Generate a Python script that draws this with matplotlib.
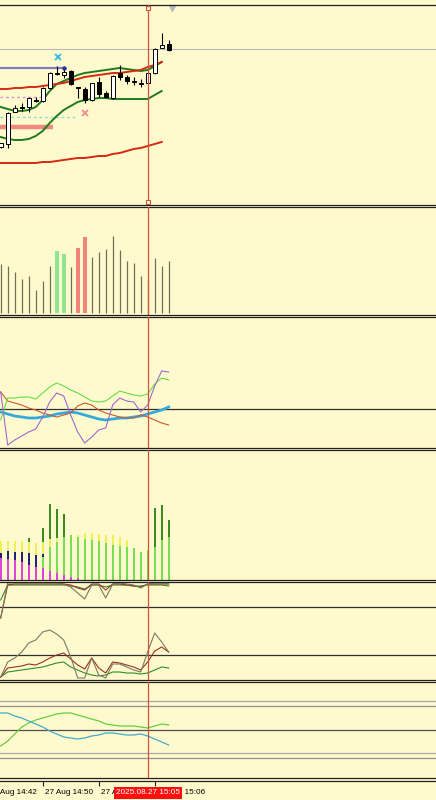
import matplotlib.pyplot as plt
import numpy as np

# 1-minute bars, 27 Aug 14:44 .. 15:08
first_minute = 14 * 60 + 44
cursor_bar = 21
cursor_label = "2025.08.27 15:05"
tick_bars = [-2, 6, 14, 22]

opens = [58, 61, 93, 98, 98, 105, 104, 117, 132, 130, 134, 118, 116, 105, 123, 112, 107, 132, 128, 124, 122, 122, 132, 157, 161]
closes = [62, 92, 97, 97, 107, 104.5, 117, 132, 131.5, 133, 121, 117.5, 105, 122, 111, 108, 129, 128, 124, 123.5, 121.5, 132, 156, 160, 155]
highs = [62, 93, 100, 102, 108, 108, 118, 133, 139, 137, 135, 118.5, 118, 122, 128, 114, 130, 140, 130, 128, 126, 133, 157, 172, 165]
lows = [57, 57, 93, 94, 93, 103, 103, 116, 130, 127, 120, 107, 102, 104, 108, 107, 106, 125, 121, 120, 118, 121, 131, 157, 154]

band_upper = [98, 96, 94, 94, 95, 98, 105, 114, 121, 124, 127, 130, 132, 133, 134, 135, 136, 137, 136, 135, 134, 135, 139, 143]
band_lower = [68, 66, 65, 65, 66, 69, 74, 82, 89, 95, 99, 103, 105, 106, 107, 107, 106, 106, 106, 106, 106, 106, 110, 114]
ma_fast = [116, 116, 117, 117, 118, 118, 119, 120, 121, 122, 124, 126, 128, 129, 130, 131, 132, 132, 133, 134, 135, 138, 140, 143]
ma_slow = [42, 42, 42, 42, 42, 42, 43, 43, 44, 45, 46, 47, 47, 48, 49, 49, 51, 52, 54, 56, 57, 59, 61, 63]
last_price = 156
high_level, high_level_end = 137, 9
pink_level, pink_level_end = 108, 6
cyan_level, cyan_level_end = 88, 10.7
zone_level, zone_level_end = 78, 7.4
cross_marks = [(8.2, 148, '#3cbcf0'), (12.0, 92, '#f09090')]

volume = [49, 47, 41, 34, 37, 23, 32, 47, 62, 59, 46, 65, 76, 56, 61, 64, 77, 63, 52, 50, 37, 33, 55, 47, 52]
vol_up = [8, 9]
vol_down = [11, 12]

osc_green = [-11, 11, 11, 12, 12, 10, 16, 22, 26, 23, 19, 16, 12, 8, 7, 8, 13, 18, 16, 14, 13, 15, 25, 31, 29]
osc_purple = [17, -36, -31, -27, -23, -20, -8, 7, 16, 13, -6, -23, -34, -28, -21, -19, 4, 11, 8, 7, -3, 4, 23, 38, 37]
osc_brown = [17, 8, 6, 4, 1, -1, -4, -6, -8, -6, -4, 3, 6, 4, -1, -4, -6, -8, -9, -9, -6, -8, -11, -14, -16]
osc_signal = [-3, -5, -7, -8, -9, -9, -8, -7, -5, -4, -3, -4, -6, -8, -10, -11, -10, -9, -9, -8, -7, -5, -3, -1, 2]

hist_magenta = [22, 21, 20, 18, 15, 13, 12, 9, 7, 5, 3, 2, 0, 0, 0, 0, 0, 0, 0, 0, 0, 0, 0, 0, 0]
hist_green = [0, 0, 0, 0, 0, 0, 11, 24, 31, 38, 42, 41, 41, 40, 39, 37, 35, 34, 33, 32, 28, 30, 33, 40, 43]
hist_navy = [5, 8, 8, 10, 12, 12, 3, 0, 0, 0, 0, 0, 0, 0, 0, 0, 0, 0, 0, 0, 0, 0, 0, 0, 0]
hist_yellow = [12, 10, 11, 11, 11, 12, 12, 8, 4, 0, 0, 2, 6, 7, 7, 8, 10, 9, 7, 0, 0, 0, 0, 0, 0]
hist_dark = [0, 0, 0, 0, 4, 0, 14, 35, 29, 23, 0, 0, 0, 0, 0, 0, 0, 0, 0, 0, 0, 0, 39, 35, 17]

stoch_hi_grey = [62, 97, 97, 97, 97, 97, 97, 97, 97, 96, 93, 87, 81, 95, 95, 82, 96, 97, 96, 95, 92, 96, 97, 97, 96]
stoch_hi_brown = [62, 95, 96, 96, 96, 96, 96, 96, 96, 96, 95, 92, 90, 96, 96, 90, 96, 96, 95, 94, 93, 96, 96, 96, 96]
stoch_hi_green = [80, 95, 95, 95, 95, 95, 95, 95, 95, 95, 94, 93, 91, 95, 95, 93, 95, 95, 95, 94, 94, 95, 95, 95, 94]
stoch_lo_grey = [3, 18, 22, 28, 37, 40, 48, 50, 46, 40, 23, 2, 2, 22, 5, 2, 16, 16, 13, 10, 8, 28, 47, 38, 28]
stoch_lo_brown = [3, 12, 13, 14, 16, 15, 18, 22, 25, 27, 21, 15, 11, 22, 12, 7, 18, 17, 15, 13, 10, 18, 29, 33, 28]
stoch_lo_green = [3, 8, 9, 10, 11, 12, 13, 15, 17, 18, 13, 10, 7, 5, 4, 5, 8, 8, 7, 7, 6, 7, 10, 13, 12]
stoch_levels = [73, 25]

rsi_green = [32, 37, 44, 51, 55, 58, 60, 62, 64, 65, 65, 63, 61, 59, 57, 54, 53, 52, 52, 52, 51, 50, 52, 54, 53]
rsi_cyan = [65, 65, 62, 60, 57, 54, 51, 47, 44, 41, 40, 39, 40, 42, 43, 45, 45, 44, 43, 43, 44, 42, 39, 36, 33]
rsi_levels = [(77, '#a8a8a8'), (72, '#909090'), (48, '#505050'), (25, '#a8a8a8'), (20, '#909090')]

BG = '#fffacd'
CURSOR = '#c8553d'
W, H = 436, 800
x0 = -0.1
xlim = (x0, x0 + W / 7)


def panel(top, bottom, ylim):
    ax = fig.add_axes([0, 1 - bottom / H, 1, (bottom - top) / H])
    ax.set_facecolor(BG)
    ax.set_xlim(*xlim)
    ax.set_ylim(*ylim)
    ax.set_xticks([])
    ax.set_yticks([])
    for s in ['left', 'right']:
        ax.spines[s].set_visible(False)
    for s in ['top', 'bottom']:
        ax.spines[s].set_color('#202020')
        ax.spines[s].set_linewidth(0.9)
    ax.axvline(cursor_bar, color=CURSOR, lw=0.9, zorder=10)
    return ax


def main():
    global fig
    plt.rcParams['font.family'] = ['Liberation Sans', 'DejaVu Sans']
    fig = plt.figure(figsize=(W / 100, H / 100), dpi=100, facecolor=BG)
    n = len(opens)
    x = np.arange(n)

    # window frame strip
    strip = fig.add_axes([0, 1 - 4 / H, 1, 4 / H])
    strip.set_facecolor('#dcdcdc')
    strip.axis('off')
    strip.patch.set_visible(True)

    # price panel
    ax = panel(5, 205, (0, 200))
    ax.axhline(last_price, color='#b8b8b8', lw=0.8)
    ax.hlines(high_level, x0, high_level_end, color='#7b7bc8', lw=1.6)
    ax.hlines(pink_level, x0, pink_level_end, color='#d890d8', lw=1, linestyles=(0, (2, 2)))
    ax.hlines(cyan_level, x0, cyan_level_end, color='#88ddcc', lw=1, linestyles=(0, (2, 2)))
    ax.hlines(zone_level, x0, zone_level_end, color='#f08a80', lw=3.2)
    xb = np.arange(len(band_upper))
    ax.plot(xb, band_upper, color='#1f7a1f', lw=1.4)
    ax.plot(xb, band_lower, color='#1f7a1f', lw=1.4)
    ax.plot(xb, ma_fast, color='#d42a10', lw=1.4)
    ax.plot(xb, ma_slow, color='#d42a10', lw=1.4)
    o = np.array(opens)
    c = np.array(closes)
    ax.vlines(x, lows, highs, color='black', lw=0.8, zorder=4)
    body_lo = np.minimum(o, c)
    body_h = np.maximum(np.abs(c - o), 0.4)
    colors = ['white' if cc >= oo else 'black' for oo, cc in zip(o, c)]
    ax.bar(x, body_h, bottom=body_lo, width=0.55, color=colors,
           edgecolor='black', lw=0.7, zorder=5)
    ax.plot([high_level_end], [high_level], 'o', color='#303090', ms=2.2, zorder=6)
    for mx, my, mc in cross_marks:
        ax.plot(mx, my, 'x', color=mc, ms=4.5, mew=1.4)
    ax.plot(cursor_bar, 197, 's', ms=3, mfc=BG, mec=CURSOR, mew=0.8, zorder=11)
    ax.plot(cursor_bar, 3, 's', ms=3, mfc=BG, mec=CURSOR, mew=0.8, zorder=11)
    ax.plot(24.5, 197, 'v', ms=5, color='#b8b8b8', clip_on=False)

    # volume
    ax = panel(207, 315, (-2, 106))
    thin = [i for i in x if i not in vol_up + vol_down]
    ax.vlines(thin, 0, [volume[i] for i in thin], color='#707058', lw=0.9)
    ax.bar(vol_up, [volume[i] for i in vol_up], width=0.55, color='#8fe68f')
    ax.bar(vol_down, [volume[i] for i in vol_down], width=0.55, color='#f0847a')

    # oscillator
    ax = panel(317, 448, (-39, 92))
    ax.axhline(0, color='#303030', lw=0.9)
    ax.plot(x, osc_signal, color='#33aadd', lw=2)
    ax.plot(x, osc_brown, color='#cc5a2a', lw=0.8)
    ax.plot(x, osc_green, color='#66dd44', lw=0.8)
    ax.plot(x, osc_purple, color='#9a6acc', lw=0.8)

    # stacked histogram
    ax = panel(450, 580, (0, 130))
    bottom = np.zeros(n)
    for vals, col in [(hist_magenta, '#dd44dd'), (hist_green, '#77dd55'),
                      (hist_navy, '#22227a'), (hist_yellow, '#eeee55'),
                      (hist_dark, '#3a8a22')]:
        ax.bar(x, vals, bottom=bottom, width=0.26, color=col)
        bottom += np.array(vals)

    # stochastic
    ax = panel(582, 680, (0, 98))
    for lv in stoch_levels:
        ax.axhline(lv, color='#303030', lw=0.9)
    for g, b, gr in [(stoch_hi_grey, stoch_hi_brown, stoch_hi_green),
                     (stoch_lo_grey, stoch_lo_brown, stoch_lo_green)]:
        ax.plot(x, gr, color='#2e8b2e', lw=0.8)
        ax.plot(x, b, color='#993322', lw=0.8)
        ax.plot(x, g, color='#7a7a62', lw=0.8)

    # bottom lines
    ax = panel(682, 778, (0, 96))
    for lv, col in rsi_levels:
        ax.axhline(lv, color=col, lw=0.9)
    ax.plot(x, rsi_green, color='#66cc44', lw=0.9)
    ax.plot(x, rsi_cyan, color='#44aacc', lw=0.9)

    # time axis
    ta = fig.add_axes([0, 0, 1, 19 / H])
    ta.set_facecolor(BG)
    ta.set_xlim(*xlim)
    ta.set_ylim(0, 19)
    ta.set_yticks([])
    for s in ['left', 'right', 'bottom']:
        ta.spines[s].set_visible(False)
    ta.spines['top'].set_color('#202020')
    ta.spines['top'].set_linewidth(0.9)
    ta.set_xticks([b for b in tick_bars if b >= 0])
    ta.set_xticklabels([])
    ta.tick_params(axis='x', direction='in', length=3.5, width=0.8,
                   top=True, bottom=False, color='#202020')
    for b in tick_bars:
        m = first_minute + b
        ta.text(b + 0.3, 7, f"27 Aug {m // 60}:{m % 60:02d}", fontsize=5.9,
                ha='left', va='center', color='black')
    ta.text(cursor_bar, 7, cursor_label, fontsize=5.9, ha='center', va='center',
            color='white', zorder=20,
            bbox=dict(boxstyle='square,pad=0.25', fc='#ff1010', ec='none'))

    plt.savefig('out.png', dpi=100, facecolor=BG)


if __name__ == '__main__':
    main()
